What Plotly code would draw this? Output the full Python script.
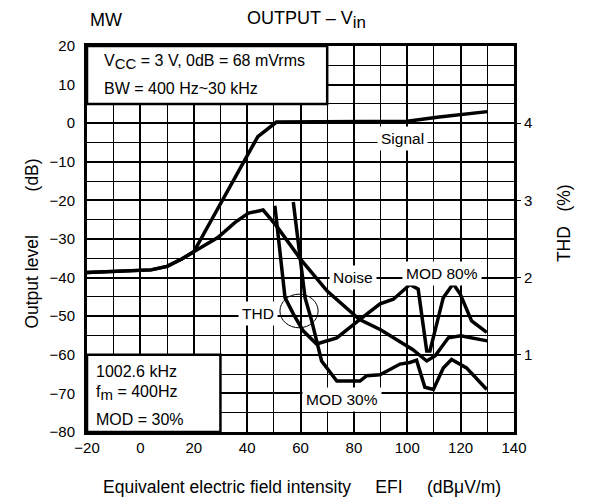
import plotly.graph_objs as go

FONT = 'Liberation Sans, Arial, Helvetica, sans-serif'
SP = '\u00a0'

# Output level curves (dB) vs EFI (dBuV/m)
signal_x = [-20, 4, 10, 15.5, 20, 44, 51, 100, 112, 130]
signal_y = [-38.7, -38, -37.1, -35.2, -33.3, -3.5, 0.3, 0.5, 1.6, 3.0]

noise_x = [-20, 4, 10, 15.5, 20, 29, 35.5, 40.5, 46, 51, 60, 70, 82, 90, 102, 107.3, 110.4, 115.4, 120, 130]
noise_y = [-38.7, -38, -37.1, -35.2, -33.3, -29.6, -25.7, -23.3, -22.5, -26.6, -35.2, -43.5, -50.8, -53.5,
           -58.6, -61.6, -60.3, -55.6, -55.1, -56.4]

# THD curves (%) on right axis
mod80_x = [50.4, 52.9, 54.2, 57.3, 61, 66, 73.6, 82.3, 89.8, 94.8, 101, 104.1, 107.3, 108.5, 113.5, 117.2, 119.8,
           124.1, 129.8]
mod80_thd = [2.93, 2.09, 1.74, 1.53, 1.31, 1.14, 1.22, 1.46, 1.66, 1.72, 1.91, 1.85, 1.05, 1.05, 1.74, 1.92, 1.79,
             1.44, 1.29]

mod30_x = [57.3, 60.4, 61.7, 64.2, 67.9, 73.6, 82.3, 84.8, 89.8, 97.3, 101, 103.5, 106.6, 109.8, 113.5, 116.6,
           122.2, 129.8]
mod30_thd = [2.98, 2.13, 1.74, 1.44, 0.92, 0.66, 0.66, 0.73, 0.74, 0.88, 0.9, 0.93, 0.58, 0.55, 0.83, 0.94, 0.83,
             0.55]

x_ticks = [-20, 0, 20, 40, 60, 80, 100, 120, 140]
y_ticks = [-80, -70, -60, -50, -40, -30, -20, -10, 0, 10, 20]
thd_ticks = [1, 2, 3, 4]

line = dict(color='black', width=3.5)

fig = go.Figure()
fig.add_trace(go.Scatter(x=signal_x, y=signal_y, mode='lines', line=line))
fig.add_trace(go.Scatter(x=noise_x, y=noise_y, mode='lines', line=line))
fig.add_trace(go.Scatter(x=mod80_x, y=mod80_thd, mode='lines', line=line, yaxis='y2'))
fig.add_trace(go.Scatter(x=mod30_x, y=mod30_thd, mode='lines', line=line, yaxis='y2'))

grid_major = dict(showgrid=True, gridcolor='black', gridwidth=2)

# page has an 8px body margin, so the figure is 8px smaller
fig.update_layout(
    width=584, height=491,
    margin=dict(l=79, r=78, t=38, b=67),
    paper_bgcolor='white', plot_bgcolor='white',
    showlegend=False,
    font=dict(family=FONT, size=15, color='black'),
    xaxis=dict(
        range=[-20, 140], tickvals=x_ticks, tick0=-20, **grid_major,
        minor=dict(dtick=10, tick0=-20, showgrid=True, gridcolor='black', gridwidth=1.3),
        showline=True, linecolor='black', linewidth=3, mirror=True,
        zeroline=False, ticks='', ticklabelstandoff=0,
    ),
    yaxis=dict(
        range=[-80, 20], tickvals=y_ticks, tick0=-80, **grid_major,
        minor=dict(dtick=5, tick0=-80, showgrid=True, gridcolor='black', gridwidth=1.3),
        showline=True, linecolor='black', linewidth=3, mirror=True,
        zeroline=False, ticks='', ticklabelstandoff=6,
    ),
    yaxis2=dict(
        range=[0, 5], tickvals=thd_ticks, overlaying='y', side='right',
        showgrid=False, zeroline=False, showline=False,
        ticks='outside', ticklen=6, tickwidth=1, tickcolor='black', ticklabelstandoff=0,
    ),
)

# white boxes with the conditions
box = dict(type='rect', xref='x', yref='y', fillcolor='white', line=dict(color='black', width=2.5), layer='above')
fig.add_shape(x0=-20, x1=70, y0=5, y1=20, **box)
fig.add_shape(x0=-20, x1=30, y0=-80, y1=-60, **box)
# loop marking the THD curves
fig.add_shape(type='circle', xref='x', yref='y', x0=52.3, x1=66.6, y0=-53, y1=-44.3,
              line=dict(color='black', width=1), layer='above')


def sub(s, size):
    return '<sub><span style="font-size:%dpx">%s</span></sub>' % (size, s)


notes = [
    ('V' + sub('CC', 15) + ' = 3 V, 0dB = 68 mVrms', -14.5, 15.8),
    ('BW = 400 Hz~30 kHz', -14.5, 9.0),
    ('1002.6 kHz', -17.5, -64.2),
    ('f' + sub('m', 15) + ' = 400Hz', -17.5, -69.8),
    ('MOD = 30%', -17.5, -76.7),
]
for text, x, y in notes:
    fig.add_annotation(x=x, y=y, xref='x', yref='y', text=text, showarrow=False, xanchor='left',
                       font=dict(size=16))

labels = [
    ('Signal', 98.4, -3.9),
    ('Noise', 79.7, -40),
    ('MOD 80%', 113, -39),
    ('THD', 44, -49.4),
    ('MOD 30%', 75.4, -71.5),
]
for text, x, y in labels:
    fig.add_annotation(x=x, y=y, xref='x', yref='y', text=text, showarrow=False,
                       bgcolor='white', borderpad=3, font=dict(size=15.5))

# titles
fig.add_annotation(x=0.002, y=1.067, xref='paper', yref='paper', text='MW', showarrow=False,
                   xanchor='left', yanchor='middle', font=dict(size=18))
fig.add_annotation(x=0.513, y=1.067, xref='paper', yref='paper', text='OUTPUT – V' + sub('in', 17),
                   showarrow=False, yanchor='middle', font=dict(size=18))
fig.add_annotation(x=0.503, y=-0.142, xref='paper', yref='paper', showarrow=False, yanchor='middle',
                   text='Equivalent electric field intensity' + SP * 5 + 'EFI' + SP * 5 + '(dBμV/m)',
                   font=dict(size=17.5))
fig.add_annotation(x=-0.157, y=0.488, xref='paper', yref='paper', showarrow=False, textangle=-90,
                   text='Output level' + SP * 9 + '(dB)', font=dict(size=17.5))
fig.add_annotation(x=1.145, y=0.541, xref='paper', yref='paper', showarrow=False, textangle=-90,
                   text='THD' + SP * 3 + '(%)', font=dict(size=17.5))

fig.write_html("out.html")
